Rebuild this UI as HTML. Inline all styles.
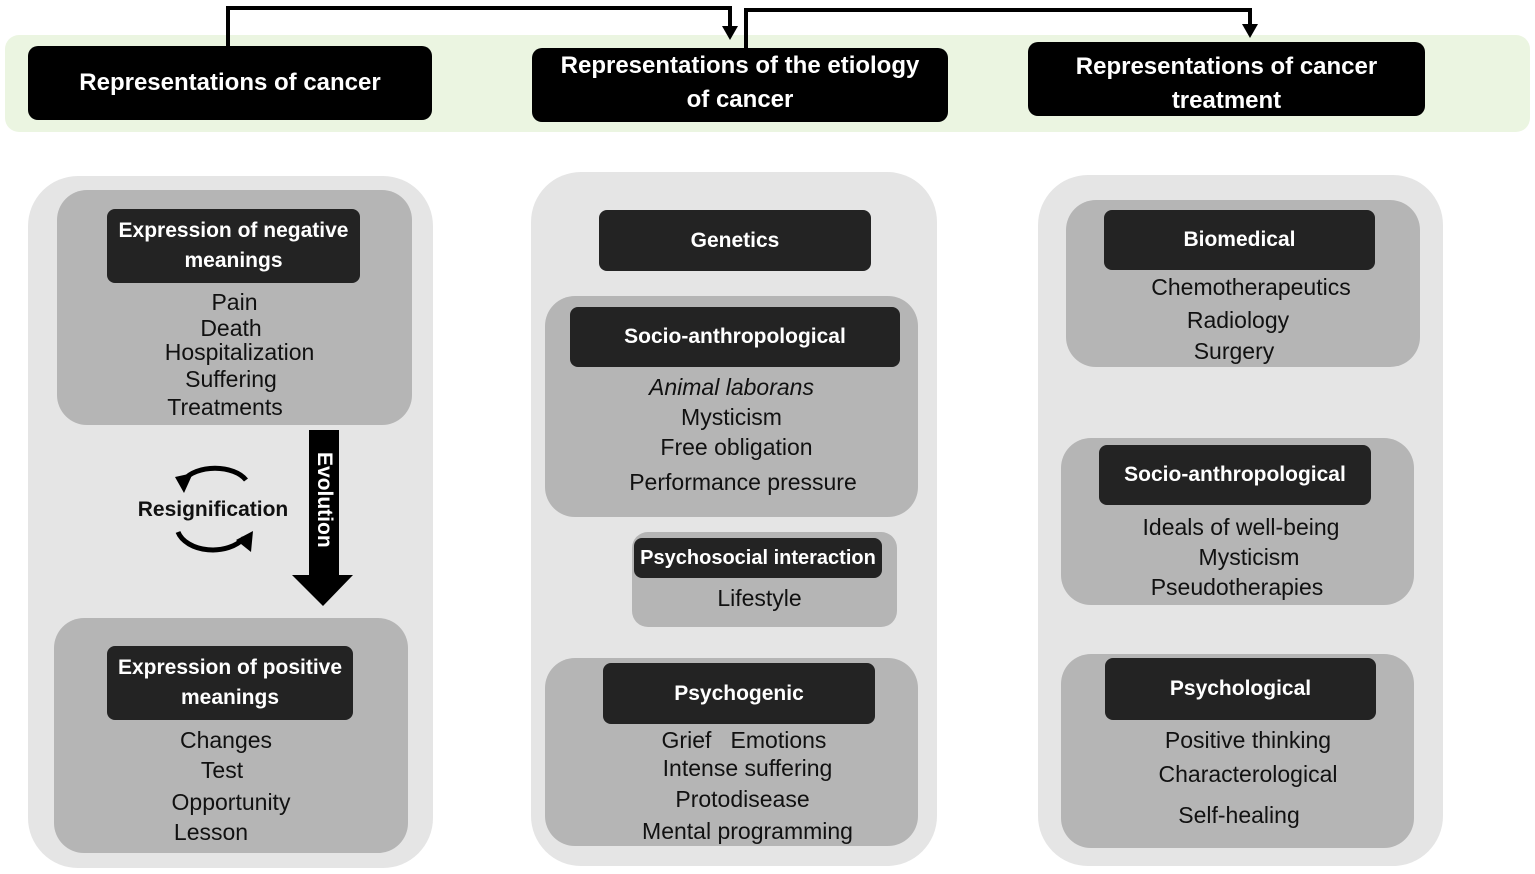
<!DOCTYPE html>
<html><head><meta charset="utf-8">
<style>
body{margin:0;width:1535px;height:874px;background:#fff;position:relative;overflow:hidden;font-family:"Liberation Sans",Arial,sans-serif}
div{position:absolute;box-sizing:border-box}
.band{background:#ebf5e1;border-radius:14px}
.hd{background:#000;border-radius:10px;color:#fff;font-weight:bold;font-size:24px;display:flex;align-items:center;justify-content:center;text-align:center;line-height:34px}
.outer{background:#e5e5e5;border-radius:50px}
.inner{background:#b5b5b5;border-radius:30px}
.lb{background:#232323;border-radius:8px;color:#fff;font-weight:bold;font-size:21px;display:flex;align-items:center;justify-content:center;text-align:center;line-height:30px}
.t{font-size:23px;color:#111;text-align:center;height:30px;line-height:30px;white-space:nowrap}
</style></head><body>
<div class="band" style="left:5px;top:35px;width:1525px;height:97px"></div>
<div class="hd" style="left:28px;top:46px;width:404px;height:74px">Representations of cancer</div>
<div class="hd" style="left:532px;top:48px;width:416px;height:74px;padding-bottom:4px">Representations of the etiology<br>of cancer</div>
<div class="hd" style="left:1028px;top:42px;width:397px;height:74px;padding-top:10px">Representations of cancer<br>treatment</div>

<svg style="position:absolute;left:0;top:0" width="1535" height="874">
<polyline points="228,46 228,8 730,8 730,28" fill="none" stroke="#000" stroke-width="4"/>
<polygon points="722,26 738,26 730,40" fill="#000"/>
<polyline points="746,48 746,10 1250,10 1250,26" fill="none" stroke="#000" stroke-width="4"/>
<polygon points="1242,24 1258,24 1250,38" fill="#000"/>
</svg>

<!-- column 1 -->
<div class="outer" style="left:28px;top:176px;width:405px;height:692px"></div>
<div class="inner" style="left:57px;top:190px;width:355px;height:235px"></div>
<div class="lb" style="left:107px;top:209px;width:253px;height:74px">Expression of negative<br>meanings</div>
<div class="t" style="left:57px;width:355px;top:287px">Pain</div>
<div class="t" style="left:57px;width:348px;top:313px">Death</div>
<div class="t" style="left:57px;width:365px;top:337px">Hospitalization</div>
<div class="t" style="left:57px;width:348px;top:364px">Suffering</div>
<div class="t" style="left:57px;width:336px;top:392px">Treatments</div>
<svg style="position:absolute;left:0;top:0" width="1535" height="874">
<polygon points="309,430 339,430 339,575 353,575 323,606 292,575 309,575" fill="#000"/>
<path d="M184,480 A34,20 0 0 1 246,480" fill="none" stroke="#000" stroke-width="5"/>
<polygon points="175,477 193,473 184,493" fill="#000"/>
<path d="M178,532 A36,24 0 0 0 244,538" fill="none" stroke="#000" stroke-width="5"/>
<polygon points="236,540 253,531 251,552" fill="#000"/>
<line x1="628" y1="522" x2="628" y2="652" stroke="#000" stroke-width="7"/>
<polygon points="616,528 640,528 628,512" fill="#000"/>
<polygon points="616,647 640,647 628,663" fill="#000"/>
</svg>
<div style="left:309px;top:440px;width:30px;height:120px;color:#fff;font-weight:bold;font-size:21px;writing-mode:vertical-rl;display:flex;align-items:center;justify-content:center">Evolution</div>
<div class="t" style="left:113px;width:200px;top:495px;font-weight:bold;font-size:21px">Resignification</div>
<div class="inner" style="left:54px;top:618px;width:354px;height:235px"></div>
<div class="lb" style="left:107px;top:646px;width:246px;height:74px">Expression of positive<br>meanings</div>
<div class="t" style="left:54px;width:344px;top:725px">Changes</div>
<div class="t" style="left:54px;width:336px;top:755px">Test</div>
<div class="t" style="left:54px;width:354px;top:787px">Opportunity</div>
<div class="t" style="left:54px;width:314px;top:817px">Lesson</div>

<!-- column 2 -->
<div class="outer" style="left:531px;top:172px;width:406px;height:694px"></div>
<div class="lb" style="left:599px;top:210px;width:272px;height:61px">Genetics</div>
<div class="inner" style="left:545px;top:296px;width:373px;height:221px"></div>
<div class="lb" style="left:570px;top:307px;width:330px;height:60px">Socio-anthropological</div>
<div class="t" style="left:545px;width:373px;top:372px;font-style:italic">Animal laborans</div>
<div class="t" style="left:545px;width:373px;top:402px">Mysticism</div>
<div class="t" style="left:545px;width:383px;top:432px">Free obligation</div>
<div class="t" style="left:545px;width:396px;top:467px">Performance pressure</div>
<div class="inner" style="left:632px;top:532px;width:265px;height:95px;border-radius:16px"></div>
<div class="lb" style="left:634px;top:538px;width:248px;height:40px;font-size:20px">Psychosocial interaction</div>
<div class="t" style="left:632px;width:255px;top:583px">Lifestyle</div>
<div class="inner" style="left:545px;top:658px;width:373px;height:188px"></div>
<div class="lb" style="left:603px;top:663px;width:272px;height:61px">Psychogenic</div>
<div class="t" style="left:545px;width:398px;top:725px">Grief &nbsp;&nbsp;Emotions</div>
<div class="t" style="left:545px;width:405px;top:753px">Intense suffering</div>
<div class="t" style="left:545px;width:395px;top:784px">Protodisease</div>
<div class="t" style="left:545px;width:405px;top:816px">Mental programming</div>

<!-- column 3 -->
<div class="outer" style="left:1038px;top:175px;width:405px;height:691px"></div>
<div class="inner" style="left:1066px;top:200px;width:354px;height:167px"></div>
<div class="lb" style="left:1104px;top:210px;width:271px;height:60px">Biomedical</div>
<div class="t" style="left:1066px;width:370px;top:272px">Chemotherapeutics</div>
<div class="t" style="left:1066px;width:344px;top:305px">Radiology</div>
<div class="t" style="left:1066px;width:336px;top:336px">Surgery</div>
<div class="inner" style="left:1061px;top:438px;width:353px;height:167px"></div>
<div class="lb" style="left:1099px;top:445px;width:272px;height:60px">Socio-anthropological</div>
<div class="t" style="left:1061px;width:360px;top:512px">Ideals of well-being</div>
<div class="t" style="left:1061px;width:376px;top:542px">Mysticism</div>
<div class="t" style="left:1061px;width:352px;top:572px">Pseudotherapies</div>
<div class="inner" style="left:1061px;top:654px;width:353px;height:194px"></div>
<div class="lb" style="left:1105px;top:658px;width:271px;height:62px">Psychological</div>
<div class="t" style="left:1061px;width:374px;top:725px">Positive thinking</div>
<div class="t" style="left:1061px;width:374px;top:759px">Characterological</div>
<div class="t" style="left:1061px;width:356px;top:800px">Self-healing</div>
</body></html>
